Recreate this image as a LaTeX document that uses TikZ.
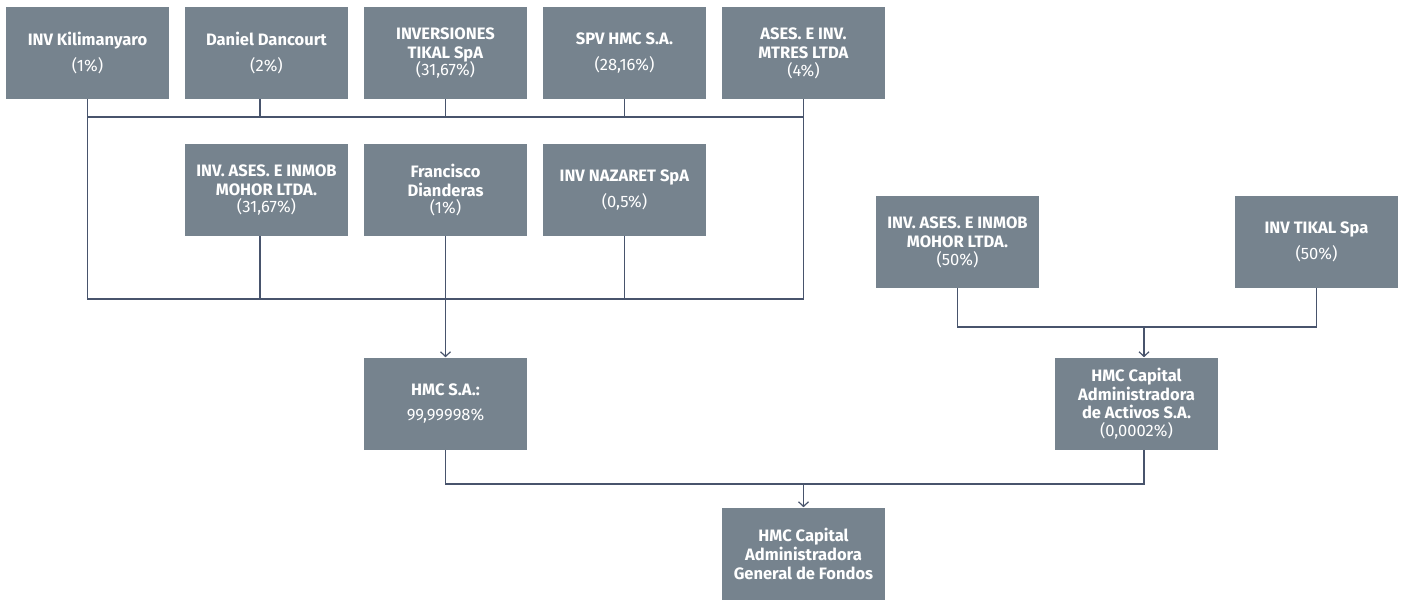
\documentclass[tikz,border=0pt]{standalone}
\usepackage{fontspec}
\setmainfont{Fira Sans}
\usetikzlibrary{arrows.meta}
\definecolor{boxgray}{RGB}{118,131,142}
\definecolor{linenavy}{RGB}{72,84,108}
\begin{document}
\begin{tikzpicture}[x=0.75pt, y=-0.75pt,
    box/.style={fill=boxgray, text=white, minimum width=122.25pt, minimum height=69pt, inner sep=0pt, align=center, font=\fontsize{12.4}{14.3}\selectfont},
    link/.style={draw=linenavy, line width=0.9pt},
    arr/.style={link, -{Straight Barb[length=3.5pt, width=7.5pt]}}]
    \useasboundingbox (0,0) rectangle (1404,600);
    %socios
    \node[box] at (87.5,53) (kili){ \textbf{INV Kilimanyaro}\\[5pt](1\%) };
    \node[box] at (266.5,53) (dan){ \textbf{Daniel Dancourt}\\[5pt](2\%) };
    \node[box] at (445.5,53) (tik){ \textbf{INVERSIONES}\\\textbf{TIKAL SpA}\\[-1pt](31,67\%) };
    \node[box] at (624.5,53) (spv){ \textbf{SPV HMC S.A.}\\[5pt](28,16\%) };
    \node[box] at (803.5,53) (mtr){ \textbf{ASES. E INV.}\\\textbf{MTRES LTDA}\\[-1pt](4\%) };
    \node[box] at (266.5,190) (moh){ \textbf{INV. ASES. E INMOB}\\\textbf{MOHOR LTDA.}\\[-1pt](31,67\%) };
    \node[box] at (445.5,190) (fra){ \textbf{Francisco}\\\textbf{Dianderas}\\[-1pt](1\%) };
    \node[box] at (624.5,190) (naz){ \textbf{INV NAZARET SpA}\\[5pt](0,5\%) };
    \node[box] at (957.5,242) (moh2){ \textbf{INV. ASES. E INMOB}\\\textbf{MOHOR LTDA.}\\[-1pt](50\%) };
    \node[box] at (1316.5,242) (tik2){ \textbf{INV TIKAL Spa}\\[5pt](50\%) };
    \node[box] at (445.5,403.5) (hmc){ \textbf{HMC S.A.:}\\[5pt]99,99998\% };
    \node[box] at (1136.5,403.5) (cap){ \textbf{HMC Capital}\\\textbf{Administradora}\\[-1pt]\textbf{de Activos S.A.}\\[-1pt](0,0002\%) };
    \node[box] at (803.5,553.5) (agf){ \textbf{HMC Capital}\\\textbf{Administradora}\\\textbf{General de Fondos} };
    %lineas
    \coordinate (busT) at (445.5,117);
    \coordinate (busB) at (445.5,299);
    \coordinate (busR) at (1144,327);
    \coordinate (busC) at (803.5,484);
    \draw[link] (kili.south) |- (busB) -| (mtr.south);
    \draw[link] (kili.south |- busT) -- (mtr.south |- busT);
    \draw[link] ([xshift=-4.9pt]dan.south) -- ([xshift=-4.9pt]dan.south |- busT);
    \foreach \n in {tik, spv}
        \draw[link] (\n.south) -- (\n.south |- busT);
    \draw[link] ([xshift=-4.9pt]moh.south) -- ([xshift=-4.9pt]moh.south |- busB);
    \draw[link] (naz.south) -- (naz.south |- busB);
    \draw[arr] (fra.south) -- (hmc.north);
    \draw[link] (moh2.south) |- (busR) -| (tik2.south);
    \draw[arr] (busR) -- (busR |- cap.north);
    \draw[link] (hmc.south) |- (busC);
    \draw[link] ([xshift=5.6pt]cap.south) |- (busC);
    \draw[arr] (busC) -- (agf.north);
\end{tikzpicture}
\end{document}
